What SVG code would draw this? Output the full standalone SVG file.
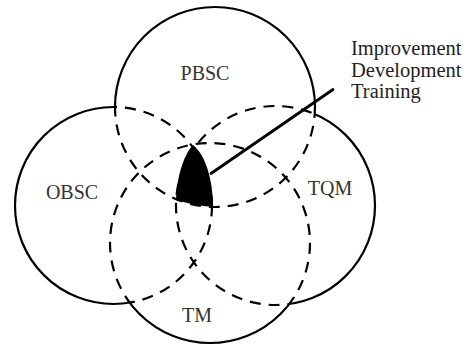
<svg xmlns="http://www.w3.org/2000/svg" width="469" height="347" viewBox="0 0 469 347">
  <style>
    .solid { fill: none; stroke: #000; stroke-width: 2.2; }
    .dash { fill: none; stroke: #000; stroke-width: 2.2; stroke-dasharray: 11 8; }
    .label { font-family: "Liberation Serif", "Times New Roman", serif; font-size: 20px; fill: #333; text-anchor: middle; }
    .note { font-family: "Liberation Serif", "Times New Roman", serif; font-size: 20.5px; fill: #222; }
    .lead { stroke: #000; stroke-width: 2.8; stroke-linecap: round; }
  </style>
  <defs>
    <!-- circle geometry shared by outlines and masks -->
    <circle id="cP" cx="215" cy="107" r="100"/>
    <circle id="cO" cx="113.5" cy="205.5" r="98.5"/>
    <circle id="cQ" cx="275.5" cy="205.5" r="99.5"/>
    <circle id="cT" cx="210" cy="243" r="100"/>

    <!-- outside-of-others masks (solid outline) -->
    <mask id="outP" maskUnits="userSpaceOnUse" x="0" y="0" width="469" height="347">
      <rect width="469" height="347" fill="#fff"/>
      <use href="#cO" fill="#000"/><use href="#cQ" fill="#000"/><use href="#cT" fill="#000"/>
    </mask>
    <mask id="outO" maskUnits="userSpaceOnUse" x="0" y="0" width="469" height="347">
      <rect width="469" height="347" fill="#fff"/>
      <use href="#cP" fill="#000"/><use href="#cQ" fill="#000"/><use href="#cT" fill="#000"/>
    </mask>
    <mask id="outQ" maskUnits="userSpaceOnUse" x="0" y="0" width="469" height="347">
      <rect width="469" height="347" fill="#fff"/>
      <use href="#cP" fill="#000"/><use href="#cO" fill="#000"/><use href="#cT" fill="#000"/>
    </mask>
    <mask id="outT" maskUnits="userSpaceOnUse" x="0" y="0" width="469" height="347">
      <rect width="469" height="347" fill="#fff"/>
      <use href="#cP" fill="#000"/><use href="#cO" fill="#000"/><use href="#cQ" fill="#000"/>
    </mask>

    <!-- inside-of-others masks (dashed arcs) -->
    <mask id="inP" maskUnits="userSpaceOnUse" x="0" y="0" width="469" height="347">
      <use href="#cO" fill="#fff"/><use href="#cQ" fill="#fff"/><use href="#cT" fill="#fff"/>
    </mask>
    <mask id="inO" maskUnits="userSpaceOnUse" x="0" y="0" width="469" height="347">
      <use href="#cP" fill="#fff"/><use href="#cQ" fill="#fff"/><use href="#cT" fill="#fff"/>
    </mask>
    <mask id="inQ" maskUnits="userSpaceOnUse" x="0" y="0" width="469" height="347">
      <use href="#cP" fill="#fff"/><use href="#cO" fill="#fff"/><use href="#cT" fill="#fff"/>
    </mask>
    <mask id="inT" maskUnits="userSpaceOnUse" x="0" y="0" width="469" height="347">
      <use href="#cP" fill="#fff"/><use href="#cO" fill="#fff"/><use href="#cQ" fill="#fff"/>
    </mask>
  </defs>

  <rect width="469" height="347" fill="#fff"/>

  <g id="pbsc">
    <use href="#cP" class="solid" mask="url(#outP)"/>
    <use href="#cP" class="dash" mask="url(#inP)"/>
    <text class="label" x="205" y="80">PBSC</text>
  </g>

  <g id="obsc">
    <use href="#cO" class="solid" mask="url(#outO)"/>
    <use href="#cO" class="dash" mask="url(#inO)"/>
    <text class="label" x="72" y="199">OBSC</text>
  </g>

  <g id="tqm">
    <use href="#cQ" class="solid" mask="url(#outQ)"/>
    <use href="#cQ" class="dash" mask="url(#inQ)"/>
    <text class="label" x="330" y="194.5">TQM</text>
  </g>

  <g id="tm">
    <use href="#cT" class="solid" mask="url(#outT)"/>
    <use href="#cT" class="dash" mask="url(#inT)"/>
    <text class="label" x="197" y="321.5">TM</text>
  </g>

  <!-- shaded common core -->
  <g id="core">
    <path d="M193,145 C186,152 177,172 176,200 Q195,205.5 213,207 C213,184 207,156 193,145 Z" fill="#000"/>
  </g>

  <g id="callout">
    <text class="note" x="351" y="55">Improvement<tspan x="351" y="76.5">Development</tspan><tspan x="351" y="98">Training</tspan></text>
  </g>

  <g id="connectors">
    <line class="lead" x1="211" y1="173.5" x2="333" y2="89.5"/>
  </g>
</svg>
